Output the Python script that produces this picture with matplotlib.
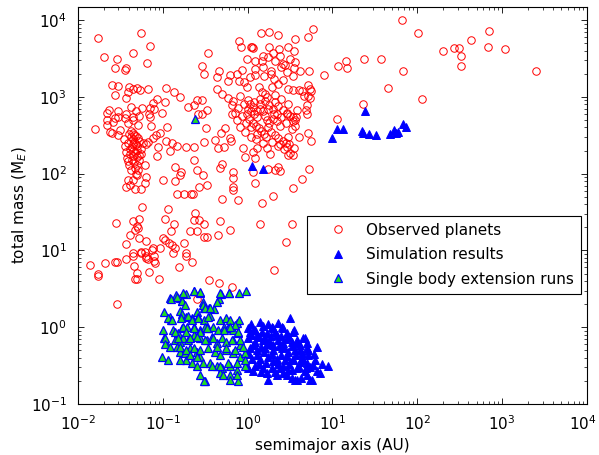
import matplotlib
matplotlib.use("Agg")
import matplotlib.pyplot as plt
from matplotlib.ticker import LogLocator, NullFormatter, FixedLocator
from matplotlib.transforms import ScaledTranslation

plt.rcParams['font.family'] = ['DejaVu Sans']
plt.rcParams['mathtext.fontset'] = 'dejavusans'

# ---- Observed planets (semimajor axis AU, total mass M_E) ----
obs_a = [
    0.017, 0.055, 0.071, 0.020, 0.029, 0.045, 0.027, 0.037, 0.036, 0.065, 0.025, 0.030, 0.0275, 0.037, 0.040,
    0.044, 0.049, 0.054, 0.067, 0.039, 0.085, 0.108, 0.136, 0.158, 0.105, 0.077, 0.071, 0.079, 0.057, 0.042,
    0.023, 0.022, 0.030, 0.037, 0.048, 0.097, 0.068, 0.053, 0.0445, 0.027, 0.20, 0.255, 0.29, 0.235, 0.29,
    0.31, 0.26, 0.33, 0.34,
    0.016, 0.022, 0.024, 0.025, 0.031, 0.030, 0.026, 0.022, 0.030, 0.036, 0.045, 0.039, 0.051, 0.070, 0.072,
    0.082, 0.077, 0.067, 0.092, 0.112, 0.11, 0.13, 0.148, 0.19, 0.23, 0.088, 0.12, 0.063, 0.086, 0.23, 0.25,
    0.31, 0.32, 0.30, 0.138, 0.165, 0.158, 0.10, 0.138, 0.061, 0.049, 0.064, 0.045, 0.039, 0.061, 0.037,
    0.047, 0.056, 0.041, 0.148, 0.178, 0.227, 0.217, 0.27, 0.33, 0.057, 0.028, 0.045, 0.053, 0.049, 0.051,
    0.047, 0.041, 0.053, 0.064, 0.037, 0.107, 0.136, 0.124, 0.115, 0.24, 0.23, 0.27, 0.31, 0.21, 0.25,
    0.107, 0.117, 0.18, 0.138, 0.077, 0.056, 0.045, 0.33, 0.19,
    0.055, 0.045, 0.063, 0.067, 0.079, 0.079, 0.081, 0.075, 0.092, 0.132, 0.19, 0.22, 0.154, 0.0137, 0.021,
    0.027, 0.029, 0.037, 0.046, 0.017, 0.0172, 0.049, 0.047, 0.050, 0.069, 0.090, 0.029, 0.35, 0.46, 0.65,
    0.25, 2.05, 2.8, 3.3, 0.062, 0.063, 0.10, 0.13, 0.31, 0.45, 0.47, 0.62, 1.4,
    1.44, 1.8, 2.3, 3.6, 5.2, 5.9, 0.80, 0.83, 1.14, 1.10, 1.16, 1.8, 2.35, 3.0, 3.5, 2.0, 1.5, 1.75, 2.4,
    3.2, 0.97, 1.22, 1.47, 2.1, 2.6, 3.6, 0.46, 0.43, 0.62, 0.59, 0.74, 0.85, 0.80, 0.91, 1.07, 1.22, 1.53,
    1.9, 1.9, 2.06, 2.5, 2.76, 2.9, 3.45, 4.1, 3.55, 5.3, 8.0, 11.5, 1.57, 1.22, 0.97, 1.37, 1.47, 1.92,
    2.3, 2.6, 3.0, 3.46, 4.07, 5.2, 5.45, 4.6, 5.2, 0.44, 0.50, 0.59, 0.68, 0.81, 0.65, 0.78, 0.29, 1.07,
    1.17, 1.4, 1.68, 2.1, 2.5, 3.0, 3.8, 5.0, 5.06, 0.65, 0.97, 1.28, 1.75, 2.2, 2.9, 3.46, 11.2,
    5.55, 4.35, 5.45, 4.85, 3.7, 3.6, 5.2, 4.07, 5.6, 3.5, 3.46, 5.3, 4.35, 3.4, 14.4, 14.7, 23.6, 37, 68,
    45, 66, 102, 114, 22.8, 200, 274, 313, 326, 326, 430, 700, 680, 1085, 2500,
    0.41, 0.45, 0.52, 0.49, 0.54, 0.62, 0.63, 0.89, 0.93, 1.17, 1.22, 1.28, 1.68, 1.84, 2.41, 2.9, 3.16,
    2.97, 0.47, 0.50, 0.67, 0.68, 0.67, 0.68, 1.22, 1.17, 2.1, 2.41, 2.3, 1.75, 0.50, 0.78, 1.98, 1.47,
    0.040, 0.042, 0.044, 0.046, 0.048, 0.050, 0.043, 0.045, 0.047, 0.041, 0.044, 0.049, 0.052, 0.038, 0.043,
    0.046, 0.040, 0.050, 0.055, 0.053, 0.039, 0.036, 0.042, 0.048, 0.051, 0.045, 0.037, 0.056, 0.047, 0.042,
    0.058, 0.044, 0.041, 0.049, 0.053, 0.035, 0.046, 0.039, 0.051, 0.048,
    0.90, 1.0, 1.1, 1.2, 1.3, 1.4, 1.5, 1.6, 1.7, 1.8, 2.0, 2.2, 2.4, 1.05, 1.15, 1.25, 1.35, 1.45, 1.55,
    1.65, 1.9, 2.1, 2.3, 2.6, 2.8, 3.0, 3.3, 3.6, 1.0, 1.2, 1.4, 1.6, 1.8, 2.0, 2.3, 2.6, 2.9, 3.2, 0.95,
    1.1, 1.3, 0.85, 0.92, 1.75, 2.05, 2.5, 1.95, 2.25, 2.7, 3.1, 1.5, 1.25, 1.1, 0.82, 0.75, 0.70, 2.8,
    3.4, 1.6, 2.1,
]
obs_m = [
    5800, 6800, 4600, 3300, 3100, 3700, 2400, 2400, 2250, 2800, 1420, 1380, 1050, 970, 1340,
    1250, 1300, 1230, 1260, 1150, 940, 1300, 1150, 1010, 870, 820, 710, 700, 715, 740,
    670, 615, 660, 600, 660, 620, 600, 560, 545, 525, 740, 920, 920, 780, 2520,
    1960, 600, 670, 3700,
    380, 430, 350, 335, 370, 320, 470, 500, 540, 525, 500, 450, 430, 550, 420,
    320, 290, 260, 335, 400, 265, 250, 230, 225, 225, 225, 200, 240, 170, 150, 111,
    260, 390, 96, 123, 106, 96, 83, 80, 130, 96, 91, 83, 83, 75, 67,
    64, 64, 71, 54, 55, 54, 54, 67, 71, 37, 23, 24, 26, 21, 19.4,
    18.4, 16, 14.4, 13.4, 12, 26, 22, 18, 35, 31, 25, 25, 22, 18, 18,
    13.7, 12.6, 12.4, 10.8, 10.6, 9.6, 9.2, 15, 9.2,
    9.3, 8.5, 8.5, 7.7, 8.5, 7.3, 6.8, 10.1, 10.6, 9.3, 8.5, 7.1, 6.1, 6.4, 6.9,
    7.1, 7.1, 7.7, 6.3, 4.9, 4.6, 5.1, 4.2, 4.2, 5.3, 4.3, 2.0, 4.1, 3.8, 3.3,
    2.3, 5.6, 12.9, 22, 9.6, 7.9, 14.4, 11.8, 14.8, 15.9, 24, 18.4, 22,
    6800, 7000, 6300, 5600, 6000, 7700, 5400, 4500, 4500, 4400, 4300, 4400, 4150, 4450, 3900, 3700, 3400, 3300, 3400,
    3100, 3100, 2900, 2900, 2900, 2700, 2850, 2170, 1800, 1900, 1600, 1960, 2250, 1600, 1560, 1800, 2300, 2450,
    2200, 2000, 1720, 2450, 2570, 2100, 1850, 2200, 2400, 2200, 1900, 2500, 1850, 1900, 1340, 1340, 1150, 1340,
    1450, 1640, 1275, 1240, 1215, 1440, 1275, 1015, 1015, 1275, 1080, 970, 880, 1015, 775, 710, 600, 810,
    740, 810, 990, 860, 945, 800, 670, 775, 600, 590, 600, 650, 700, 600, 600, 545, 520,
    1200, 1200, 970, 670, 550, 500, 340, 300, 265, 214, 175, 114, 85, 65, 2900, 2350, 3100, 3100, 2200,
    1290, 10000, 6800, 945, 800, 3900, 4300, 4300, 3430, 2540, 5500, 7300, 4450, 4150, 2200,
    275, 214, 220, 335, 395, 290, 265, 214, 166, 193, 158, 217, 214, 180, 240, 224, 184,
    175, 117, 132, 106, 87, 67, 61, 75, 106, 111, 109, 123, 115, 47, 45, 51, 42,
    330, 300, 280, 260, 240, 230, 220, 200, 190, 180, 170, 165, 150, 160, 150,
    140, 130, 130, 210, 270, 250, 230, 360, 310, 290, 340, 190, 180, 120, 110,
    250, 240, 210, 205, 175, 280, 315, 145, 110, 100,
    800, 700, 650, 600, 550, 700, 650, 560, 500, 450, 520, 480, 420, 520, 460, 420, 390, 360, 330,
    300, 350, 320, 290, 270, 250, 300, 380, 420, 900, 850, 950, 880, 780, 700, 760, 680, 620, 560, 450,
    400, 330, 560, 350, 400, 600, 550, 260, 230, 210, 240, 250, 280, 300, 400, 500, 620, 450,
    480, 1100, 1050,
]

# ---- Simulation results ----
sim_a = [
    1.14, 1.53, 11.4, 13.4, 22, 23, 27, 33, 48, 53, 56, 59, 67, 74, 9.8, 24,
    1.40, 1.92, 2.52, 3.16, 1.07, 1.22, 1.47, 1.68, 2.1, 2.89, 3.46, 4.75, 1.02, 1.22, 1.53, 1.84, 2.3,
    2.64, 3.31, 4.15, 5.0, 1.07, 1.28, 1.6, 2.01, 2.52, 3.02, 3.62, 4.35, 5.2, 1.12, 1.4, 1.75, 2.2, 2.76,
    3.46, 4.15, 5.0, 5.95, 8.95, 1.02, 1.22, 1.53, 1.92, 2.41, 3.02, 3.79, 4.75, 7.14, 1.68, 2.64, 1.75,
    3.62, 5.7, 5.0, 2.2,
    1.02, 1.16, 0.98, 1.17, 1.28, 1.53, 1.98, 2.62, 3.5, 3.79, 4.5, 5.0, 5.2, 4.15, 3.46, 4.5, 6.23, 6.53,
    5.44, 3.79, 3.31,
    1.1, 1.35, 1.6, 1.9, 2.2, 2.5, 2.8, 3.1, 1.15, 1.45, 1.7, 2.0, 2.35, 2.7, 3.3, 3.9, 1.3, 1.55, 1.95,
    2.45, 2.9, 3.7, 4.4, 1.05, 1.65, 2.0, 2.3, 2.6, 3.1, 4.0, 4.9, 1.35, 1.45, 2.1, 2.9, 3.3, 4.2, 5.5,
    6.0, 1.1, 1.75, 2.3, 6.5, 7.5,
]
sim_m = [
    127, 115, 380, 380, 360, 340, 330, 320, 330, 365, 340, 350, 440, 400, 290, 660,
    1.18, 1.0, 1.0, 1.3, 0.87, 0.92, 0.87, 0.84, 0.87, 0.84, 0.87, 0.72, 0.72, 0.65, 0.68, 0.65, 0.68,
    0.62, 0.65, 0.59, 0.53, 0.53, 0.51, 0.53, 0.51, 0.53, 0.48, 0.51, 0.46, 0.43, 0.39, 0.39, 0.41, 0.39, 0.37,
    0.39, 0.355, 0.34, 0.32, 0.31, 0.29, 0.31, 0.29, 0.29, 0.29, 0.28, 0.29, 0.265, 0.25, 0.25, 0.25, 0.205,
    0.205, 0.205, 0.24, 0.24,
    0.97, 0.92, 0.31, 0.265, 0.79, 1.03, 0.99, 0.99, 0.92, 0.68, 0.72, 0.62, 0.51, 0.51, 0.37, 0.37, 0.37, 0.265,
    0.205, 0.205, 0.28,
    0.78, 0.75, 0.72, 0.77, 0.80, 0.76, 0.70, 0.75, 0.58, 0.56, 0.60, 0.58, 0.57, 0.55, 0.57, 0.62, 0.44, 0.47, 0.45,
    0.44, 0.42, 0.44, 0.40, 0.45, 0.34, 0.36, 0.33, 0.31, 0.33, 0.30, 0.29, 0.33, 0.26, 0.26, 0.24, 0.22, 0.22, 0.30,
    0.45, 1.1, 1.1, 1.15, 0.55, 0.33,
]

# ---- Single body extension runs ----
ext_a = [
    0.24,
    0.122, 0.142, 0.16, 0.17, 0.186, 0.235, 0.275, 0.295, 0.305, 0.353, 0.40, 0.46, 0.49, 0.61, 0.80, 0.96,
    0.104, 0.122, 0.124, 0.16, 0.17, 0.19, 0.22, 0.25, 0.26, 0.305, 0.36, 0.47, 0.56, 0.62, 0.74, 0.80,
    0.10, 0.133, 0.15, 0.167, 0.195, 0.23, 0.275, 0.315, 0.34, 0.39, 0.45, 0.52, 0.59, 0.68, 0.78,
    0.104, 0.11, 0.139, 0.16, 0.175, 0.20, 0.23, 0.275, 0.33, 0.38, 0.43, 0.50, 0.56, 0.68, 0.81,
    0.099, 0.116, 0.16, 0.145, 0.183, 0.21, 0.25, 0.275, 0.34, 0.41, 0.47, 0.56, 0.68, 0.81, 0.93,
    0.19, 0.22, 0.25, 0.30, 0.36, 0.43, 0.50, 0.62, 0.74, 0.93, 0.315, 0.47, 0.62, 0.78, 0.62,
    0.124, 0.148, 0.175, 0.23, 0.275, 0.47, 0.60, 0.167, 0.183, 0.295, 0.315, 0.36, 0.43, 0.116, 0.127,
    0.163, 0.20, 0.22, 0.26, 0.34, 0.71, 0.139, 0.175, 0.19, 0.23, 0.275, 0.33, 0.52, 0.62, 0.78, 0.106,
    0.106, 0.153, 0.21, 0.25, 0.315, 0.39, 0.66, 0.81, 0.122, 0.16, 0.19, 0.23, 0.275, 0.43, 0.56, 0.71,
    0.88, 0.16, 0.21, 0.25, 0.38, 0.47, 0.59, 0.74, 0.93, 0.275, 0.51, 0.74, 0.305,
]
ext_m = [
    520,
    2.37, 2.6, 2.4, 2.2, 2.7, 2.95, 2.8, 2.15, 1.8, 1.8, 1.75, 2.3, 2.7, 2.75, 2.75, 3.0,
    1.6, 1.37, 1.24, 1.63, 1.47, 1.37, 1.3, 1.6, 1.37, 1.24, 1.42, 1.24, 1.3, 1.24, 1.12, 1.24,
    0.92, 0.92, 0.83, 0.97, 1.0, 1.0, 0.92, 1.0, 0.97, 1.0, 0.92, 1.0, 0.97, 0.92, 0.83,
    0.72, 0.62, 0.68, 0.65, 0.72, 0.68, 0.80, 0.72, 0.68, 0.75, 0.62, 0.72, 0.65, 0.68, 0.59,
    0.41, 0.37, 0.48, 0.56, 0.46, 0.53, 0.48, 0.41, 0.53, 0.48, 0.43, 0.51, 0.46, 0.41, 0.46,
    0.37, 0.34, 0.31, 0.34, 0.34, 0.31, 0.29, 0.31, 0.28, 0.31, 0.20, 0.25, 0.24, 0.20, 0.205,
    2.35, 2.5, 2.8, 2.95, 2.9, 2.75, 2.75, 2.2, 1.95, 1.95, 1.76, 1.76, 2.15, 1.3, 1.24,
    1.3, 1.42, 1.24, 1.3, 1.37, 1.07, 0.87, 1.0, 0.87, 0.97, 0.87, 0.97, 0.92, 1.0, 0.87, 0.73,
    0.61, 0.72, 0.72, 0.75, 0.68, 0.72, 0.68, 0.68, 0.56, 0.56, 0.51, 0.53, 0.51, 0.56, 0.53, 0.51,
    0.56, 0.37, 0.43, 0.41, 0.31, 0.31, 0.34, 0.34, 0.37, 0.24, 0.24, 0.24, 0.20,
]

x_ticks = [1e-2, 1e-1, 1e0, 1e1, 1e2, 1e3, 1e4]
y_ticks = [1e-1, 1e0, 1e1, 1e2, 1e3, 1e4]
x_limits = (1e-2, 1e4)
y_limits = (1e-1, 1.48e4)

fig = plt.figure(figsize=(5.99, 4.55), dpi=100)
ax = fig.add_axes([0.1302, 0.1121, 0.8497, 0.8725])

h_obs, = ax.plot(obs_a, obs_m, linestyle='none', marker='o', markersize=5.4,
                 markerfacecolor='none', markeredgecolor='#ff0000', markeredgewidth=0.7)
h_sim, = ax.plot(sim_a, sim_m, linestyle='none', marker='^', markersize=6.3,
                 markerfacecolor='#0000ff', markeredgecolor='#0000ff', markeredgewidth=0.7)
h_ext, = ax.plot(ext_a, ext_m, linestyle='none', marker='^', markersize=6.3,
                 markerfacecolor='#22dd22', markeredgecolor='#0000ff', markeredgewidth=0.9)

ax.set_xscale('log')
ax.set_yscale('log')
ax.set_xlim(*x_limits)
ax.set_ylim(*y_limits)

ax.xaxis.set_major_locator(FixedLocator(x_ticks))
ax.yaxis.set_major_locator(FixedLocator(y_ticks))
for axis in (ax.xaxis, ax.yaxis):
    axis.set_minor_locator(LogLocator(base=10, subs=[2, 3, 4, 5, 6, 7, 8, 9], numticks=20))
    axis.set_minor_formatter(NullFormatter())

ax.tick_params(which='both', direction='in', top=True, right=True, labelsize=11, colors='black')
ax.tick_params(which='major', length=4, width=0.6)
ax.tick_params(axis='x', which='major', pad=7.5)
ax.tick_params(axis='y', which='major', pad=8)
ax.tick_params(which='minor', length=2, width=0.5)
for s in ax.spines.values():
    s.set_linewidth(0.8)

# nudge the last x tick label slightly left so it stays inside the canvas
last_tick = ax.xaxis.get_major_ticks()[-1]
last_tick.label1.set_transform(last_tick.label1.get_transform()
                               + ScaledTranslation(-0.045, 0, fig.dpi_scale_trans))

ax.set_xlabel('semimajor axis (AU)', fontsize=11, labelpad=3.5)
ax.set_ylabel('total mass (M$_E$)', fontsize=11, labelpad=1.5)

leg = ax.legend([h_obs, h_sim, h_ext],
                ['Observed planets', 'Simulation results', 'Single body extension runs'],
                loc='upper left', bbox_to_anchor=(0.45, 0.474), borderaxespad=0,
                fontsize=11, frameon=True, fancybox=False, edgecolor='black', framealpha=1,
                handlelength=3.1, handletextpad=0.3, labelspacing=0.62, borderpad=0.45)
leg.get_frame().set_linewidth(0.8)

fig.savefig('out.png', dpi=100)
